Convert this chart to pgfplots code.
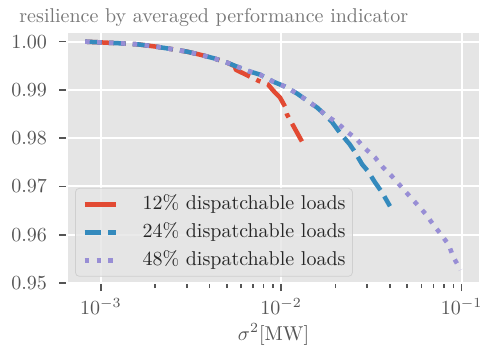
\documentclass[border=0pt]{standalone}
\usepackage{pgfplots}
\pgfplotsset{compat=1.18}
\definecolor{bgc}{HTML}{E5E5E5}
\definecolor{c1}{HTML}{E24A33}
\definecolor{c2}{HTML}{348ABD}
\definecolor{c3}{HTML}{988ED5}
\definecolor{labc}{HTML}{555555}
\definecolor{titc}{HTML}{777777}
\definecolor{legedge}{HTML}{CFCFCF}
\pgfplotsset{
  legline/.style={legend image code/.code={\draw[##1] (0pt,0pt) -- (15.8pt,0pt);}},
  legsolid/.style={legend image code/.code={\draw[##1,solid] (0pt,0pt) -- (15.8pt,0pt);}},
}
\pgfplotstableread{
x y
8.2e-4 1.0000
1.0e-3 0.99985
1.40e-3 0.99959
1.61e-3 0.99944
2.0e-3 0.9990
2.58e-3 0.99835
3.01e-3 0.99793
3.55e-3 0.99731
4.2e-3 0.9966
5.01e-3 0.99566
5.55e-3 0.99490
5.6e-3 0.9942
7.44e-3 0.99194
8.46e-3 0.99112
9.24e-3 0.98946
9.85e-3 0.98843
0.0105 0.98657
0.01077 0.98492
0.01148 0.98306
0.0124 0.98079
0.01303 0.97934
}\redtab
\pgfplotstableread{
x y
8.2e-4 1.0000
1.0e-3 0.99985
1.40e-3 0.99959
1.61e-3 0.99944
2.0e-3 0.9990
2.58e-3 0.99835
3.01e-3 0.99793
3.55e-3 0.99731
4.2e-3 0.9966
5.01e-3 0.99566
5.69e-3 0.99483
6.72e-3 0.99380
7.63e-3 0.99318
9.01e-3 0.99174
0.0105 0.99070
0.01225 0.98926
0.0139 0.9878
0.01581 0.98636
0.01745 0.98492
0.0191 0.98340
0.0211 0.98120
0.0240 0.97872
0.0257 0.97707
0.0281 0.97459
0.0303 0.97314
0.0331 0.97087
0.0362 0.96880
0.0401 0.96591
}\bluetab
\pgfplotstableread{
x y
8.2e-4 1.0000
1.0e-3 0.99985
1.40e-3 0.99959
1.61e-3 0.99944
2.0e-3 0.9990
2.58e-3 0.99835
3.01e-3 0.99793
3.55e-3 0.99731
4.2e-3 0.9966
5.01e-3 0.99566
5.69e-3 0.99483
6.72e-3 0.99380
7.63e-3 0.99318
9.01e-3 0.99174
0.0105 0.99070
0.01225 0.98926
0.0139 0.9878
0.01581 0.98636
0.01745 0.98492
0.02036 0.98326
0.02313 0.98140
0.02628 0.97975
0.02912 0.97789
0.0331 0.97603
0.03664 0.97397
0.04111 0.97211
0.04551 0.97025
0.05039 0.96839
0.05653 0.96632
0.0634 0.96426
0.06935 0.96219
0.07678 0.96012
0.08504 0.95785
0.0895 0.95558
0.0966 0.95331
0.0985 0.9527
}\purptab
\begin{document}
\begin{tikzpicture}
\path[use as bounding box] (-33.5pt,-33.5pt) rectangle (211.5pt,141.5pt);
\begin{axis}[
  at={(0pt,0pt)}, anchor=south west,
  scale only axis, width=206.5pt, height=125.5pt,
  xmode=log, xmin=6.5e-4, xmax=0.1265,
  ymin=0.95, ymax=1.002,
  axis background/.style={fill=bgc},
  axis line style={white, line width=1pt},
  grid=major, major grid style={white, line width=1pt},
  tick align=outside, tick pos=left,
  major tick length=4pt, minor tick length=2.5pt,
  tick style={labc, line width=0.8pt},
  xtick={1e-3,1e-2,1e-1},
  ytick={0.95,0.96,0.97,0.98,0.99,1.00},
  y tick label style={xshift=-2.5pt, /pgf/number format/fixed, /pgf/number format/fixed zerofill, /pgf/number format/precision=2},
  tick label style={color=labc},
  xlabel={$\sigma^2$[MW]},
  xlabel style={at={(axis description cs:0.5,0)}, anchor=base, yshift=-28.5pt, color=labc},
  legend style={at={(0.0194,0.0251)}, anchor=south west, fill=bgc, fill opacity=0.8, text opacity=1, draw=legedge, rounded corners=2pt, inner xsep=3.5pt, inner ysep=3.5pt, row sep=5pt, nodes={inner sep=0pt, text height=7pt, text depth=2pt, text=black!85}, /tikz/every odd column/.append style={column sep=12pt}},
  legend cell align=left,
  legline,
]
\addplot[c1, line width=2.25pt, line join=round, dash pattern=on 14.4pt off 3.6pt on 2.25pt off 3.6pt, legsolid] table[x=x,y=y] {\redtab};
\addlegendentry{12\% dispatchable loads}
\addplot[c2, line width=2.25pt, line join=round, dash pattern=on 8.3pt off 3.6pt] table[x=x,y=y] {\bluetab};
\addlegendentry{24\% dispatchable loads}
\addplot[c3, line width=2.25pt, line join=round, dash pattern=on 2.25pt off 3.7pt] table[x=x,y=y] {\purptab};
\addlegendentry{48\% dispatchable loads}
\end{axis}
\node[anchor=base west, text=titc, inner sep=0pt] at (-24pt,130.2pt) {resilience by averaged performance indicator};
\end{tikzpicture}
\end{document}
